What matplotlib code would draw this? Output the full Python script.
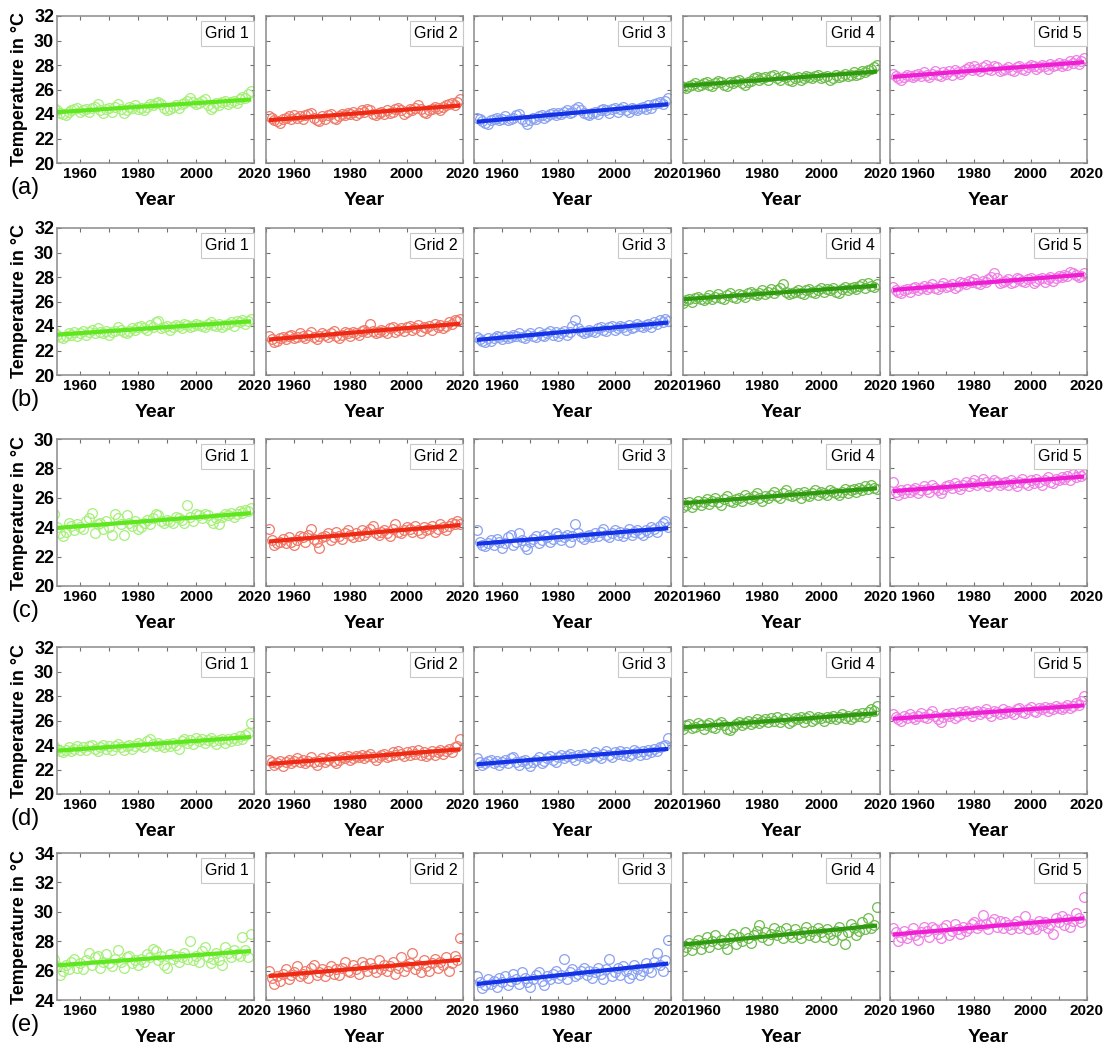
import numpy as np
import matplotlib
matplotlib.use('Agg')
import matplotlib.pyplot as plt
from matplotlib.ticker import MultipleLocator

plt.rcParams['font.family'] = ['Liberation Sans', 'DejaVu Sans']
plt.rcParams['font.weight'] = 'bold'
plt.rcParams['axes.labelweight'] = 'bold'

years = np.arange(1951, 2020)

# annual mean temperature (deg C), rows (a)-(e), grids 1-5
a1 = [24.5, 24.3, 24.1, 24.0, 23.9, 24.2, 24.3, 24.4, 24.5, 24.2, 24.3, 24.4, 24.2, 24.5, 24.6, 24.8, 24.3, 24.1, 24.4, 24.5,
      24.2, 24.6, 24.8, 24.4, 24.1, 24.3, 24.6, 24.5, 24.7, 24.4, 24.5, 24.3, 24.6, 24.8, 24.7, 24.9, 25.0, 24.8, 24.5, 24.3,
      24.4, 24.6, 24.7, 24.5, 24.8, 24.9, 25.1, 25.3, 25.0, 24.8, 24.9, 25.1, 25.2, 24.7, 24.4, 24.6, 24.9, 24.7, 25.0, 25.1,
      24.8, 25.0, 25.1, 24.9, 25.2, 25.4, 25.3, 25.6, 25.9]
a2 = [23.8, 23.7, 23.5, 23.4, 23.3, 23.6, 23.7, 23.8, 23.6, 23.9, 23.7, 23.8, 23.6, 23.9, 24.0, 24.1, 23.7, 23.5, 23.4, 23.8,
      23.6, 23.9, 24.0, 23.7, 23.6, 23.8, 24.0, 23.9, 24.1, 24.0, 24.2, 23.9, 24.1, 24.3, 24.2, 24.4, 24.3, 24.0, 23.9, 24.1,
      24.2, 24.0, 24.3, 24.1, 24.2, 24.4, 24.5, 24.3, 24.0, 24.2, 24.4, 24.3, 24.5, 24.7, 24.4, 24.2, 24.1, 24.3, 24.4, 24.6,
      24.5, 24.3, 24.6, 24.7, 24.8, 24.9, 24.7, 25.0, 25.2]
a3 = [23.7, 23.6, 23.4, 23.3, 23.2, 23.5, 23.6, 23.7, 23.5, 23.6, 23.8, 23.5, 23.6, 23.7, 23.9, 24.0, 23.6, 23.4, 23.2, 23.5,
      23.7, 23.6, 23.8, 23.9, 23.7, 23.8, 24.0, 24.1, 23.9, 24.1, 24.0, 24.2, 24.3, 24.1, 24.2, 24.4, 24.6, 24.3, 24.1, 24.0,
      23.9, 24.1, 24.2, 24.0, 24.3, 24.4, 24.3, 24.1, 24.4, 24.5, 24.2, 24.4, 24.6, 24.3, 24.2, 24.5, 24.4, 24.3, 24.5, 24.6,
      24.4, 24.7, 24.5, 24.8, 24.9, 25.0, 24.8, 25.1, 25.3]
a4 = [26.6, 26.4, 26.2, 26.1, 26.3, 26.4, 26.5, 26.3, 26.4, 26.5, 26.6, 26.4, 26.3, 26.5, 26.7, 26.6, 26.4, 26.3, 26.6, 26.5,
      26.7, 26.8, 26.5, 26.4, 26.6, 26.7, 26.9, 27.0, 26.8, 26.9, 27.0, 26.8, 27.1, 27.2, 26.9, 26.8, 27.1, 27.0, 26.8, 26.7,
      26.9, 27.0, 26.8, 26.9, 27.1, 27.0, 26.9, 27.1, 27.2, 26.9, 27.0, 27.1, 26.8, 26.9, 27.2, 27.0, 27.1, 27.3, 27.1, 27.2,
      27.4, 27.2, 27.3, 27.5, 27.4, 27.6, 27.7, 27.8, 28.0]
a5 = [27.3, 27.1, 26.9, 26.8, 27.0, 27.2, 27.1, 27.0, 27.2, 27.3, 27.1, 27.4, 27.2, 27.0, 27.3, 27.5, 27.2, 27.1, 27.4, 27.3,
      27.5, 27.2, 27.6, 27.4, 27.3, 27.5, 27.7, 27.8, 27.6, 27.9, 27.7, 27.5, 27.8, 28.0, 27.7, 27.6, 27.9, 27.8, 27.5, 27.6,
      27.7, 27.8, 27.6, 27.5, 27.8, 27.9, 27.7, 27.6, 27.8, 28.0, 27.9, 27.7, 27.8, 28.0, 27.9, 27.7, 28.1, 27.9, 28.0, 28.2,
      27.9, 28.1, 28.0, 28.3, 28.2, 28.4, 28.1, 28.3, 28.6]

b1 = [23.5, 23.3, 23.1, 23.0, 23.2, 23.4, 23.3, 23.5, 23.2, 23.4, 23.6, 23.3, 23.5, 23.7, 23.4, 23.8, 23.5, 23.4, 23.6, 23.3,
      23.5, 23.6, 23.9, 23.7, 23.5, 23.4, 23.6, 23.8, 23.7, 23.9, 24.0, 23.8, 23.7, 24.1, 23.9, 24.3, 24.4, 23.8, 23.9, 24.0,
      23.7, 23.9, 24.1, 24.0, 23.8, 24.2, 24.1, 23.9, 24.0, 24.2, 24.1, 24.0, 23.9, 24.2, 24.3, 24.1, 24.0, 24.2, 23.9, 24.1,
      24.2, 24.3, 24.0, 24.4, 24.3, 24.5, 24.2, 24.4, 24.6]
b2 = [23.2, 22.9, 22.7, 22.8, 23.0, 23.1, 22.9, 23.2, 23.3, 23.0, 23.1, 23.4, 23.2, 23.0, 23.3, 23.5, 23.1, 22.9, 23.2, 23.4,
      23.3, 23.1, 23.4, 23.6, 23.2, 23.0, 23.3, 23.5, 23.4, 23.2, 23.5, 23.4, 23.3, 23.6, 23.7, 23.5, 24.2, 23.6, 23.4, 23.5,
      23.7, 23.6, 23.4, 23.8, 23.9, 23.5, 23.7, 23.8, 23.6, 23.9, 24.0, 23.7, 23.8, 24.1, 23.6, 23.9, 23.8, 24.0, 23.7, 24.2,
      23.9, 24.1, 23.8, 24.0, 24.3, 24.2, 24.5, 24.4, 24.6]
b3 = [23.1, 22.9, 22.8, 22.7, 23.0, 22.8, 23.0, 23.2, 23.1, 22.9, 23.2, 23.0, 23.1, 23.3, 23.2, 23.4, 23.1, 23.0, 23.3, 23.4,
      23.2, 23.1, 23.5, 23.3, 23.2, 23.4, 23.6, 23.3, 23.5, 23.2, 23.4, 23.6, 23.3, 23.5, 24.0, 24.5, 23.8, 23.6, 23.4, 23.5,
      23.7, 23.6, 23.5, 23.8, 23.9, 23.7, 23.6, 23.9, 24.0, 23.7, 23.8, 24.0, 23.9, 23.7, 24.1, 23.8, 23.9, 24.2, 24.0, 23.9,
      24.1, 24.2, 23.9, 24.3, 24.2, 24.5, 24.3, 24.6, 24.4]
b4 = [26.3, 26.0, 25.9, 26.1, 26.2, 26.0, 26.3, 26.4, 26.2, 26.1, 26.3, 26.5, 26.2, 26.4, 26.6, 26.3, 26.2, 26.5, 26.7, 26.4,
      26.3, 26.6, 26.5, 26.4, 26.7, 26.8, 26.6, 26.5, 26.7, 26.9, 26.6, 26.8, 27.0, 26.7, 26.9, 27.1, 27.4, 26.8, 26.6, 26.7,
      26.8, 26.9, 26.7, 26.6, 26.9, 27.0, 26.8, 26.7, 26.9, 27.1, 26.8, 27.0, 26.9, 27.1, 26.8, 26.7, 27.0, 27.2, 26.9, 27.1,
      27.2, 27.0, 27.3, 27.4, 27.1, 27.5, 27.3, 27.2, 27.4]
b5 = [27.2, 26.9, 26.8, 26.7, 26.9, 27.0, 26.8, 27.1, 27.2, 26.9, 27.1, 27.3, 27.0, 27.2, 27.4, 27.1, 27.0, 27.3, 27.5, 27.2,
      27.3, 27.4, 27.1, 27.3, 27.6, 27.5, 27.4, 27.7, 27.6, 27.8, 27.5, 27.4, 27.7, 27.6, 27.8, 28.0, 28.3, 27.9, 27.5, 27.6,
      27.7, 27.8, 27.5, 27.6, 27.9, 27.8, 27.7, 27.6, 27.8, 27.9, 27.5, 27.7, 27.8, 27.9, 27.6, 27.8, 28.0, 27.7, 27.9, 28.1,
      28.0, 28.2, 28.1, 28.4, 28.3, 28.2, 28.0, 28.1, 28.3]

c1 = [24.9, 24.0, 23.6, 23.4, 23.7, 24.3, 24.1, 23.8, 24.2, 24.0, 23.9, 24.4, 24.6, 25.0, 23.6, 24.2, 24.3, 23.9, 24.4, 24.0,
      23.5, 24.9, 24.6, 24.2, 23.5, 24.8, 24.3, 24.1, 24.4, 23.9, 24.0, 24.3, 24.5, 24.2, 24.6, 24.9, 24.8, 24.4, 24.3, 24.5,
      24.4, 24.3, 24.7, 24.6, 24.5, 24.3, 25.5, 24.7, 24.4, 24.9, 24.8, 24.6, 24.9, 24.8, 24.5, 24.3, 24.6, 24.2, 24.7, 24.9,
      24.8, 25.0, 24.7, 24.9, 25.1, 25.0, 25.2, 25.1, 25.3]
c2 = [23.9, 23.1, 22.8, 22.9, 23.0, 23.2, 22.9, 23.3, 23.0, 22.8, 23.1, 23.4, 23.3, 23.0, 23.5, 23.9, 23.2, 23.0, 22.6, 23.3,
      23.4, 23.6, 23.1, 23.3, 23.7, 23.4, 23.2, 23.6, 23.8, 23.5, 23.3, 23.6, 23.4, 23.8, 23.5, 23.7, 23.9, 24.1, 23.6, 23.5,
      23.7, 23.8, 23.6, 23.4, 23.9, 24.2, 23.7, 23.6, 23.8, 24.0, 23.9, 23.7, 24.1, 23.8, 23.6, 24.0, 23.8, 23.9, 24.1, 23.7,
      23.9, 24.2, 24.0, 23.8, 24.1, 24.3, 24.2, 24.4, 24.2]
c3 = [23.8, 23.0, 22.8, 22.7, 22.9, 23.1, 22.8, 23.2, 23.0, 22.6, 22.9, 23.3, 23.5, 22.8, 23.0, 23.6, 23.1, 22.7, 22.5, 23.0,
      23.2, 23.4, 22.9, 23.1, 23.5, 23.3, 23.0, 23.2, 23.6, 23.4, 23.1, 23.3, 23.5, 23.0, 23.4, 24.2, 23.6, 23.3, 23.2, 23.4,
      23.5, 23.3, 23.6, 23.4, 23.7, 23.9, 23.5, 23.3, 23.6, 23.8, 23.5, 23.7, 23.4, 23.6, 23.9, 23.5, 23.7, 23.8, 23.6, 23.5,
      23.8, 23.7, 24.0, 23.9, 23.7, 24.1, 24.3, 24.4, 24.0]
c4 = [26.4, 25.6, 25.4, 25.5, 25.7, 25.4, 25.6, 25.8, 25.5, 25.7, 25.9, 25.6, 25.8, 26.0, 25.7, 25.5, 25.9, 26.1, 25.8, 25.7,
      25.9, 26.0, 25.8, 26.2, 26.0, 25.9, 26.1, 26.3, 26.0, 25.8, 26.1, 26.0, 26.2, 26.4, 26.1, 26.0, 26.3, 26.5, 26.2, 26.1,
      26.2, 26.3, 26.0, 26.4, 26.2, 26.1, 26.3, 26.5, 26.2, 26.4, 26.3, 26.2, 26.5, 26.4, 26.3, 26.2, 26.4, 26.6, 26.3, 26.5,
      26.6, 26.4, 26.7, 26.5, 26.8, 26.6, 26.9, 26.7, 26.6]
c5 = [27.1, 26.4, 26.2, 26.5, 26.3, 26.6, 26.4, 26.5, 26.7, 26.3, 26.5, 26.8, 26.6, 26.4, 26.9, 26.7, 26.5, 26.3, 26.6, 26.8,
      26.9, 26.7, 27.0, 26.8, 26.6, 26.9, 27.1, 26.8, 27.0, 27.2, 26.9, 27.0, 27.3, 27.1, 26.8, 27.0, 27.2, 27.1, 26.9, 27.0,
      27.1, 26.9, 27.2, 27.0, 26.8, 27.1, 27.3, 27.0, 26.9, 27.2, 27.0, 27.3, 27.1, 26.9, 27.2, 27.4, 27.1, 27.0, 27.3, 27.2,
      27.4, 27.3, 27.5, 27.2, 27.6, 27.4, 27.7, 27.5, 27.6]

d1 = [23.9, 23.7, 23.5, 23.4, 23.6, 23.8, 23.5, 23.7, 23.9, 23.6, 23.8, 23.6, 23.9, 24.0, 23.7, 23.5, 23.8, 24.0, 23.7, 23.9,
      23.6, 23.9, 24.1, 23.8, 23.6, 23.9, 24.0, 23.7, 23.9, 24.2, 24.0, 23.8, 24.3, 24.5, 24.1, 23.9, 24.2, 24.0, 23.8, 24.1,
      23.9, 24.2, 24.0, 23.7, 24.3, 24.5, 24.2, 24.4, 24.1, 24.6, 24.3, 24.5, 24.2, 24.4, 24.6, 24.3, 24.1, 24.4, 24.5, 24.2,
      24.5, 24.3, 24.6, 24.4, 24.7, 24.5, 24.8, 25.0, 25.8]
d2 = [22.8, 22.6, 22.4, 22.5, 22.7, 22.3, 22.6, 22.8, 22.5, 22.7, 22.9, 22.6, 22.8, 22.5, 22.7, 23.0, 22.6, 22.4, 22.7, 22.9,
      22.6, 22.8, 23.0, 22.7, 22.5, 22.8, 23.0, 22.9, 23.1, 22.8, 22.9, 23.1, 23.0, 23.2, 22.9, 23.1, 23.3, 23.0, 22.8, 23.0,
      23.2, 23.3, 23.0, 23.1, 23.4, 23.2, 23.5, 23.3, 23.1, 23.4, 23.2, 23.5, 23.3, 23.6, 23.2, 23.4, 23.1, 23.3, 23.5, 23.2,
      23.4, 23.6, 23.3, 23.5, 23.7, 23.4, 23.8, 23.9, 24.5]
d3 = [22.9, 22.6, 22.4, 22.5, 22.7, 22.8, 22.5, 22.7, 22.4, 22.6, 22.8, 22.5, 22.9, 23.0, 22.6, 22.4, 22.7, 22.8, 22.5, 22.3,
      22.6, 22.8, 23.0, 22.5, 22.7, 22.9, 23.1, 22.8, 22.6, 23.0, 23.2, 22.9, 23.1, 23.3, 23.0, 22.8, 23.2, 23.1, 23.3, 22.9,
      23.0, 23.2, 23.4, 23.1, 22.9, 23.3, 23.5, 23.2, 23.0, 23.4, 23.3, 23.5, 23.2, 23.4, 23.1, 23.3, 23.6, 23.4, 23.2, 23.5,
      23.3, 23.6, 23.4, 23.7, 23.5, 23.8, 23.9, 24.0, 24.6]
d4 = [25.8, 25.5, 25.3, 25.6, 25.7, 25.4, 25.5, 25.8, 25.6, 25.3, 25.6, 25.8, 25.5, 25.4, 25.7, 25.9, 25.6, 25.3, 25.2, 25.5,
      25.7, 25.9, 25.6, 25.8, 26.0, 25.7, 25.9, 26.1, 25.8, 26.0, 26.1, 25.9, 26.2, 26.0, 26.3, 25.9, 26.1, 26.2, 25.8, 26.0,
      26.2, 26.1, 26.3, 25.9, 26.2, 26.4, 26.0, 26.1, 26.3, 26.2, 26.0, 26.3, 26.2, 26.4, 26.1, 26.3, 26.5, 26.2, 26.4, 26.1,
      26.3, 26.5, 26.4, 26.6, 26.3, 26.7, 26.9, 26.8, 27.2]
d5 = [26.5, 26.3, 26.1, 26.0, 26.4, 26.2, 26.5, 26.3, 26.1, 26.4, 26.6, 26.3, 26.2, 26.5, 26.8, 26.4, 26.1, 25.9, 26.3, 26.5,
      26.4, 26.6, 26.2, 26.4, 26.7, 26.5, 26.8, 26.6, 26.4, 26.7, 26.8, 26.5, 26.7, 26.9, 26.6, 26.4, 26.8, 26.7, 26.5, 26.9,
      26.6, 26.8, 26.7, 26.5, 26.9, 27.0, 26.7, 26.6, 26.9, 27.1, 26.8, 26.7, 27.0, 26.9, 27.1, 26.8, 27.0, 26.9, 27.2, 27.0,
      26.9, 27.1, 27.3, 27.0, 27.2, 27.4, 27.3, 27.6, 28.0]

e1 = [26.8, 26.3, 25.7, 26.0, 26.4, 26.1, 26.6, 26.8, 26.2, 26.5, 26.1, 26.7, 27.2, 26.4, 26.9, 27.0, 26.2, 26.6, 27.1, 26.5,
      26.3, 26.8, 27.4, 26.6, 26.2, 26.9, 27.0, 26.5, 26.7, 26.4, 26.8, 26.6, 27.1, 26.9, 27.5, 27.3, 26.7, 27.0, 26.4, 26.2,
      27.1, 26.8, 27.0, 26.6, 26.9, 27.2, 26.8, 28.0, 26.7, 27.0, 26.6, 27.3, 27.6, 26.9, 26.5, 26.8, 27.2, 26.7, 26.4, 27.6,
      27.2, 26.9, 27.4, 27.1, 27.0, 28.3, 27.4, 26.9, 28.5]
e2 = [26.0, 25.5, 25.1, 25.6, 25.3, 25.8, 26.1, 25.4, 25.7, 25.9, 26.3, 25.6, 25.8, 26.0, 25.5, 26.2, 26.4, 25.7, 25.9, 26.1,
      25.6, 26.0, 26.3, 25.8, 26.1, 25.7, 26.2, 26.6, 26.0, 25.9, 26.4, 26.1, 25.8, 26.6, 26.3, 26.0, 26.5, 26.2, 25.9, 26.7,
      26.1, 26.4, 26.0, 26.3, 26.6, 25.8, 26.2, 26.9, 26.0, 26.3, 26.5, 27.2, 26.1, 26.4, 25.9, 26.7, 26.3, 26.0, 26.5, 26.8,
      26.2, 26.6, 26.4, 26.9, 26.0, 26.5, 27.0, 26.7, 28.2]
e3 = [25.6, 25.2, 24.8, 25.0, 25.4, 25.1, 25.3, 24.9, 25.5, 25.2, 25.6, 25.0, 25.3, 25.8, 25.4, 25.1, 25.9, 25.5, 25.2, 24.9,
      25.4, 25.7, 25.9, 25.3, 25.0, 25.6, 25.4, 25.8, 26.0, 25.5, 25.7, 26.8, 25.4, 25.9, 26.1, 25.6, 25.8, 26.0, 26.2, 25.7,
      26.0, 25.5, 25.9, 26.2, 25.8, 25.4, 26.1, 26.8, 25.6, 25.9, 26.2, 25.7, 26.3, 26.0, 25.5, 25.8, 26.4, 26.1, 25.7, 26.0,
      26.5, 26.2, 25.9, 26.6, 27.2, 26.4, 26.0, 26.7, 28.1]
e4 = [28.2, 27.7, 27.3, 27.6, 27.9, 27.4, 27.8, 28.1, 27.5, 27.9, 28.3, 27.6, 28.0, 28.4, 27.8, 28.1, 27.9, 27.5, 28.2, 28.5,
      27.8, 28.3, 28.0, 28.6, 28.2, 27.9, 28.4, 28.7, 29.1, 28.3, 28.6, 28.1, 28.5, 28.9, 28.4, 28.7, 28.2, 28.9, 28.5, 28.3,
      28.8, 28.5, 28.2, 28.6, 29.0, 28.4, 28.7, 28.3, 28.9, 28.6, 28.3, 28.8, 28.5, 28.1, 28.7, 29.0, 28.4, 27.8, 28.6, 29.2,
      28.9, 28.4, 28.7, 29.3, 28.8, 29.6, 28.9, 29.1, 30.3]
e5 = [28.9, 28.6, 28.0, 28.3, 28.7, 28.2, 28.5, 28.9, 28.4, 28.1, 28.6, 29.0, 28.7, 28.3, 29.0, 28.8, 28.5, 28.2, 28.9, 29.1,
      28.4, 28.7, 29.2, 28.8, 28.5, 29.0, 28.7, 28.9, 29.2, 29.3, 28.9, 29.1, 29.8, 29.2, 28.8, 29.3, 29.5, 29.0, 29.4, 28.9,
      29.3, 29.1, 28.8, 29.2, 29.4, 28.9, 29.1, 29.7, 28.8, 29.2, 29.0, 28.8, 29.4, 29.1, 29.3, 28.9, 29.2, 28.5, 29.6, 29.3,
      29.7, 29.1, 29.5, 29.0, 29.4, 29.9, 29.6, 29.3, 31.0]

rows = [[a1, a2, a3, a4, a5],
        [b1, b2, b3, b4, b5],
        [c1, c2, c3, c4, c5],
        [d1, d2, d3, d4, d5],
        [e1, e2, e3, e4, e5]]
row_tags = ['(a)', '(b)', '(c)', '(d)', '(e)']
row_ylims = [(20, 32), (20, 32), (20, 30), (20, 32), (24, 34)]
grid_names = ['Grid 1', 'Grid 2', 'Grid 3', 'Grid 4', 'Grid 5']

line_colors = ['#5ee61e', '#ee2a14', '#1432e6', '#2f9a10', '#ee1ed2']
dot_colors = ['#a6f07a', '#f07a6a', '#8aa2f2', '#6cbc4c', '#f07ee6']

# panel placement in pixels of a 1110x1048 canvas
W, H = 1110, 1048
col_left = [57, 266, 474, 683, 890]
col_xmin = [1952, 1950, 1950, 1953, 1950]
row_top = [16, 228, 439, 647, 853]
pw, ph = 197, 147

fig = plt.figure(figsize=(W / 100, H / 100), dpi=100)

for r in range(5):
    for c in range(5):
        ax = fig.add_axes([col_left[c] / W, 1 - (row_top[r] + ph) / H, pw / W, ph / H])
        temp = np.array(rows[r][c])
        ax.plot(years, temp, 'o', mfc='none', mec=dot_colors[c], ms=7, mew=0.9)
        k, b = np.polyfit(years, temp, 1)
        xf = np.array([years[0], years[-1]])
        ax.plot(xf, k * xf + b, color=line_colors[c], lw=3, solid_capstyle='butt')

        ax.set_xlim(col_xmin[c], 2020)
        ax.set_ylim(*row_ylims[r])
        ax.xaxis.set_major_locator(MultipleLocator(20))
        ax.xaxis.set_minor_locator(MultipleLocator(10))
        ax.yaxis.set_major_locator(MultipleLocator(2))
        ax.tick_params(which='both', direction='in', top=True, right=True,
                       color='#707070', length=3, width=0.8)
        ax.tick_params(axis='x', labelsize=11, pad=3)
        ax.tick_params(axis='y', labelsize=13, pad=2)
        if c > 0:
            ax.set_yticklabels([])
        for s in ax.spines.values():
            s.set_color('#8a8a8a')
            s.set_linewidth(1.1)

        ax.set_xlabel('Year', fontsize=14)
        ax.xaxis.set_label_coords(0.5, -0.2)

        ax.text(0.975, 0.93, grid_names[c], transform=ax.transAxes, ha='right', va='top',
                fontsize=11.5, fontweight='normal',
                bbox=dict(boxstyle='square,pad=0.3', fc='white', ec='#c8c8c8', lw=0.8))

    yc = 1 - (row_top[r] + ph / 2) / H
    fig.text(20 / W, yc, 'Temperature in \u00b0C', rotation=90, ha='center', va='center', fontsize=13)
    fig.text(25 / W, 1 - (row_top[r] + ph + 25) / H, row_tags[r], ha='center', va='center',
             fontsize=17, fontweight='normal')

fig.savefig('out.png', dpi=100)
